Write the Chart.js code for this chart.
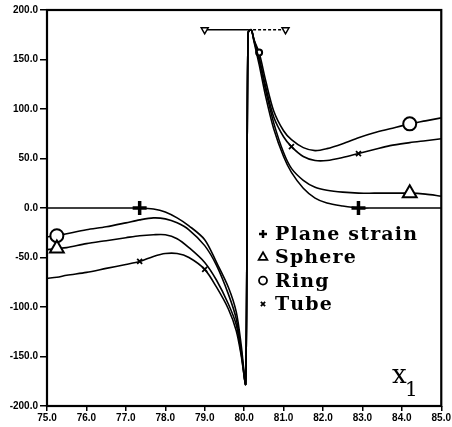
<!DOCTYPE html>
<html>
<head>
<meta charset="utf-8">
<script src="https://cdn.jsdelivr.net/npm/chart.js@4.4.1/dist/chart.umd.min.js"></script>
<style>
html,body{margin:0;padding:0;background:#fff;}
#wrap{width:452px;height:427px;}
</style>
</head>
<body>
<div id="wrap"><canvas id="c" width="452" height="427"></canvas></div>
<script>
// ---- data ----
const xs = [75.0, 75.25, 75.5, 76.0, 76.5, 77.0, 77.35, 77.7, 78.0, 78.3, 78.6, 79.0, 79.3, 79.6, 79.8, 79.93, 80.04, 80.1, 80.18, 80.25, 80.38, 80.55, 80.75, 81.0, 81.2, 81.5, 81.8, 82.1, 82.5, 82.9, 83.3, 83.7, 84.2, 84.6, 85.0];
const planeStrain = [0,0,0,0,0,0,0,-1,-4,-10,-18,-32,-55,-80,-105,-140,-177,178,180,168,145,112,80,52,36,20,10,5,2,0,0,0,0,0,0];
const ring   = [-29,-28,-26,-22,-19,-15,-12,-10,-11,-15,-22,-38,-58,-87,-112,-145,-177,177,180,170,157,128,98,78,69,61,58,60,65,71,76,80,85,88,91];
const sphere = [-42,-41,-40,-36,-33,-30,-28,-27,-27,-31,-40,-55,-73,-97,-118,-148,-177,177,180,169,150,118,86,56,40,28,21,18,16,15,15,15,15,14,12];
const tube   = [-71,-70,-68,-65,-61,-57,-54,-49,-46,-46,-50,-62,-80,-102,-124,-150,-177,177,180,170,152,122,92,72,62,52,48,48,51,55,59,63,66,68,70];
const planeStrainMarkers = [77.35, 82.9];
const ringMarkers = [75.25, 84.2];
const ringSmallMarkers = [80.38];
const sphereMarkers = [75.25, 84.2];
const tubeMarkers = [77.35, 79.0, 81.2, 82.9];
const bracketSolidX = [79.0, 80.1];
const bracketDashX = [80.1, 81.05];
const bracketY = 180;
const yTicks = [-200, -150, -100, -50, 0, 50, 100, 150, 200];
const xTicks = [75, 76, 77, 78, 79, 80, 81, 82, 83, 84, 85];
const seriesNames = ['Plane strain', 'Sphere', 'Ring', 'Tube'];
const axisLabel = 'x';
const axisSub = '1';

function pts(ys){ return xs.map((x,i)=>({x:x,y:ys[i]})); }
function markerRadius(list, r, list2, r2){
  return ctx => {
    const x = ctx.raw && ctx.raw.x;
    if (list.includes(x)) return r;
    if (list2 && list2.includes(x)) return r2;
    return 0;
  };
}
const base = {borderColor:'#000', borderWidth:1.6, tension:0.3, pointBackgroundColor:'#fff', pointBorderColor:'#000', pointHoverRadius:0, fill:false};

const datasets = [
  Object.assign({}, base, {label:seriesNames[0], data:pts(planeStrain), pointStyle:'cross', pointRadius:markerRadius(planeStrainMarkers,7), pointBorderWidth:3.5}),
  Object.assign({}, base, {label:seriesNames[1], data:pts(sphere), pointStyle:'triangle', pointRadius:markerRadius(sphereMarkers,8), pointBorderWidth:2}),
  Object.assign({}, base, {label:seriesNames[2], data:pts(ring), pointStyle:'circle', pointRadius:markerRadius(ringMarkers,6.5,ringSmallMarkers,3), pointBorderWidth:2}),
  Object.assign({}, base, {label:seriesNames[3], data:pts(tube), pointStyle:'crossRot', pointRadius:markerRadius(tubeMarkers,3.5), pointBorderWidth:1.8}),
  {label:'', data:bracketSolidX.map(x=>({x:x,y:bracketY})), borderColor:'#000', borderWidth:1.5, pointStyle:'triangle', pointRotation:180,
   pointRadius:ctx=>ctx.dataIndex===0?4:0, pointBackgroundColor:'#fff', pointBorderColor:'#000', pointBorderWidth:1.5, tension:0},
  {label:'', data:bracketDashX.map(x=>({x:x,y:bracketY})), borderColor:'#000', borderWidth:1.5, borderDash:[3,2], pointStyle:'triangle', pointRotation:180,
   pointRadius:ctx=>ctx.dataIndex===1?4:0, pointBackgroundColor:'#fff', pointBorderColor:'#000', pointBorderWidth:1.5, tension:0}
];

const SERIF = '"DejaVu Serif", "Liberation Serif", serif';
const frame = {
  id:'frame',
  afterDatasetsDraw(chart){
    const {ctx, chartArea:a} = chart;
    ctx.save();
    ctx.strokeStyle = '#000'; ctx.lineWidth = 2.2;
    ctx.strokeRect(a.left, a.top, a.right-a.left, a.bottom-a.top);
    // legend
    const lx = a.left + 216, ly = a.top + 224, dy = 23.3;
    ctx.fillStyle = '#000';
    ctx.font = 'bold 19px ' + SERIF;
    ctx.textBaseline = 'middle'; ctx.textAlign = 'left';
    const w0 = ctx.measureText(seriesNames[0]).width;
    const ls = Math.max(0, (142 - w0) / (seriesNames[0].length - 1));
    const styles = ['cross','triangle','circle','crossRot'];
    for (let i=0;i<4;i++){
      const y = ly + i*dy;
      let xx = lx + 12;
      for (const ch of seriesNames[i]) {
        ctx.fillText(ch, xx, y+1);
        xx += ctx.measureText(ch).width + ls;
      }
      ctx.lineWidth = styles[i]==='cross'?2.5:1.8;
      ctx.fillStyle='#fff';
      Chart.helpers.drawPoint(ctx, {pointStyle:styles[i], radius: styles[i]==='triangle'?5:(styles[i]==='crossRot'?3:4), rotation:0, borderWidth:ctx.lineWidth}, lx, y);
      ctx.fillStyle='#000';
    }
    // axis label x1
    ctx.font = '26px ' + SERIF;
    ctx.textBaseline = 'alphabetic';
    ctx.fillText(axisLabel, a.left + 345, a.bottom - 23);
    ctx.font = '20px ' + SERIF;
    ctx.fillText(axisSub, a.left + 358, a.bottom - 10);
    ctx.restore();
  }
};

new Chart(document.getElementById('c'), {
  type:'line',
  data:{datasets:datasets},
  options:{
    responsive:false, animation:false,
    layout:{padding:{top:10, right:9, left:0, bottom:0}},
    plugins:{legend:{display:false}, tooltip:{enabled:false}},
    scales:{
      x:{type:'linear', min:75, max:85,
        afterFit(s){ s.height = 21; },
        afterBuildTicks(s){ s.ticks = xTicks.map(v=>({value:v})); },
        grid:{drawOnChartArea:false, tickLength:5, color:'#000', lineWidth:1.5},
        border:{display:false},
        ticks:{callback:v=>v.toFixed(1), color:'#000', padding:1, maxRotation:0, autoSkip:false,
          font:{family:'"Liberation Sans Narrow", "Liberation Sans", sans-serif', size:10, weight:'bold'}}
      },
      y:{type:'linear', min:-200, max:200,
        afterFit(s){ s.width = 47; },
        afterBuildTicks(s){ s.ticks = yTicks.map(v=>({value:v})); },
        grid:{drawOnChartArea:false, tickLength:7, color:'#000', lineWidth:1.5},
        border:{display:false},
        ticks:{callback:v=>v.toFixed(1), color:'#000', padding:2,
          font:{family:'"Liberation Sans Narrow", "Liberation Sans", sans-serif', size:10, weight:'bold'}}
      }
    }
  },
  plugins:[frame]
});
</script>
</body>
</html>
